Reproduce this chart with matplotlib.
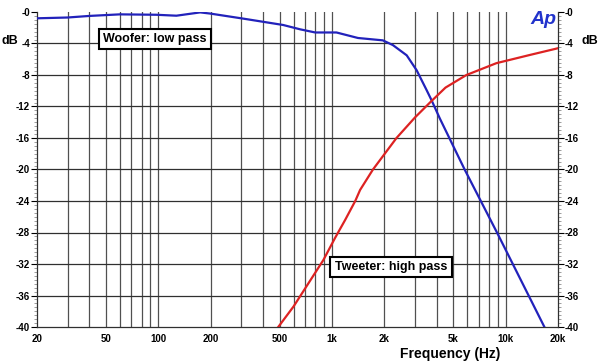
import matplotlib.pyplot as plt
import numpy as np
from matplotlib.ticker import FixedLocator, NullFormatter, MultipleLocator

plt.rcParams["font.family"] = ["Liberation Sans", "DejaVu Sans"]

# Woofer (low pass) response
woofer_freq = [20, 30, 40, 60, 97, 127, 174, 199, 310, 523, 655, 800, 1060,
               1410, 1960, 2240, 2690, 3070, 3500, 3740, 4170, 5800, 9000, 16700]
woofer_db = [-0.8, -0.7, -0.5, -0.3, -0.35, -0.47, -0.05, -0.2, -0.85, -1.65,
             -2.2, -2.6, -2.6, -3.3, -3.6, -4.2, -5.5, -7.4, -9.9, -11.2,
             -13.5, -20.0, -28.2, -40.0]

# Tweeter (high pass) response
tweeter_freq = [490, 600, 700, 891, 1040, 1190, 1360, 1450, 1720, 2350, 3000,
                3700, 4500, 5940, 8830, 13800, 20000]
tweeter_db = [-40.0, -37.4, -35.1, -31.5, -28.7, -26.4, -24.0, -22.6, -20.0,
              -16.0, -13.4, -11.4, -9.6, -8.0, -6.5, -5.45, -4.6]

x_ticks = [20, 50, 100, 200, 500, 1000, 2000, 5000, 10000, 20000]
x_tick_labels = ["20", "50", "100", "200", "500", "1k", "2k", "5k", "10k", "20k"]
y_ticks = list(range(-40, 1, 4))
y_tick_labels = ["-0" if v == 0 else str(v) for v in y_ticks]

fig = plt.figure(figsize=(6, 3.62), dpi=100)
ax = fig.add_axes([37 / 600, 1 - 327 / 362, (558 - 37) / 600, (327 - 12) / 362])

ax.plot(woofer_freq, woofer_db, color="#2222bb", lw=1.6, zorder=3)
ax.plot(tweeter_freq, tweeter_db, color="#dd2222", lw=1.6, zorder=3)

ax.set_xscale("log")
ax.set_xlim(20, 20000)
ax.set_ylim(-40, 0)

# vertical grid at every 1-2-3...9 step of each decade
grid_x = []
for dec in [10, 100, 1000, 10000]:
    for m in range(1, 10):
        f = m * dec
        if 20 < f < 20000:
            grid_x.append(f)
for f in grid_x:
    ax.axvline(f, color="#505050", lw=0.9, zorder=1)
for v in y_ticks[1:-1]:
    ax.axhline(v, color="#303030", lw=0.9, zorder=1)

ax.xaxis.set_major_locator(FixedLocator(x_ticks))
ax.xaxis.set_minor_locator(FixedLocator([]))
ax.xaxis.set_minor_formatter(NullFormatter())
ax.set_xticks(x_ticks)
ax.set_xticklabels(x_tick_labels, fontsize=7, fontweight="bold")
ax.tick_params(axis="x", length=0, pad=5)

ax.set_yticks(y_ticks)
ax.set_yticklabels(y_tick_labels, fontsize=7, fontweight="bold")
ax.yaxis.set_minor_locator(MultipleLocator(0.5))
ax.tick_params(axis="y", which="major", length=4, width=0.8, direction="out",
               left=True, right=True, labelleft=True, labelright=True, pad=1)
ax.tick_params(axis="y", which="minor", length=2.5, width=0.5, direction="out",
               left=True, right=True, color="#777777")

ax.spines["top"].set_visible(False)
for s in ["left", "right", "bottom"]:
    ax.spines[s].set_color("#303030")
    ax.spines[s].set_linewidth(0.9)

fig.text(10 / 600, 1 - 41 / 362, "dB", fontsize=9, fontweight="bold",
         ha="center", va="center")
fig.text(590 / 600, 1 - 41 / 362, "dB", fontsize=9, fontweight="bold",
         ha="center", va="center")
fig.text(450 / 600, 1 - 354 / 362, "Frequency (Hz)", fontsize=10,
         fontweight="bold", ha="center", va="center")
fig.text(543 / 600, 1 - 20 / 362, "Ap", fontsize=14, fontweight="bold",
         style="italic", color="#2233cc", ha="center", va="center")

box = dict(boxstyle="square,pad=0.35", fc="white", ec="black", lw=1.5)
fig.text(155 / 600, 1 - 39 / 362, "Woofer: low pass", fontsize=9,
         fontweight="bold", ha="center", va="center", bbox=box)
fig.text(391 / 600, 1 - 267 / 362, "Tweeter: high pass", fontsize=9,
         fontweight="bold", ha="center", va="center", bbox=box)

plt.savefig("out.png", dpi=100)
